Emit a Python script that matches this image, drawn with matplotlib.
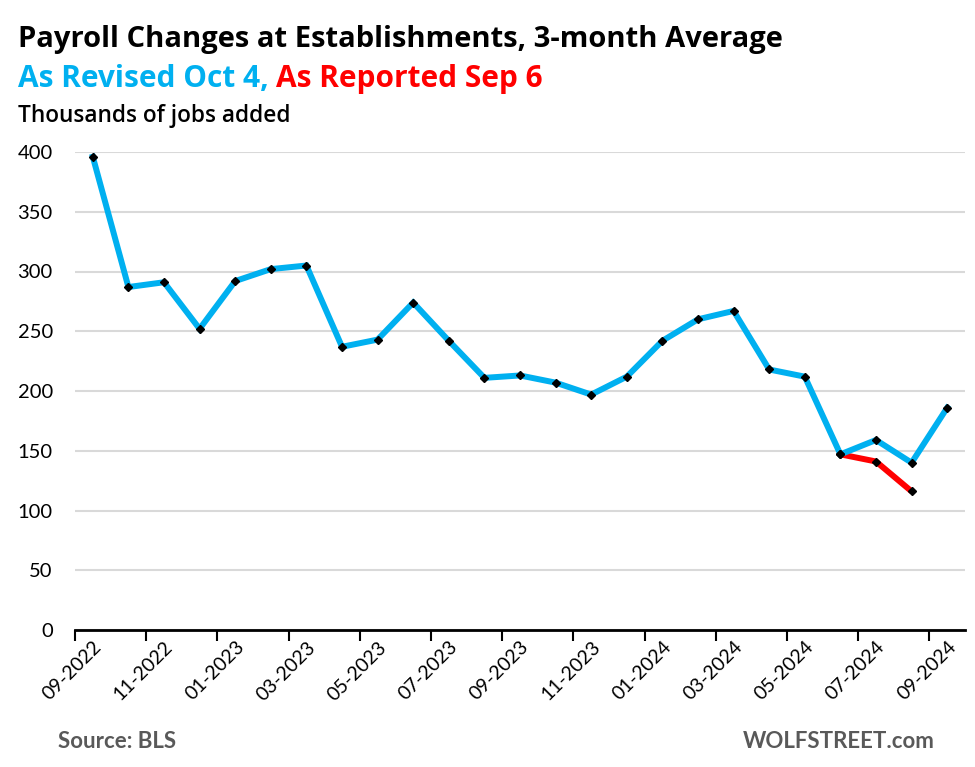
import matplotlib
matplotlib.use("Agg")
import matplotlib.pyplot as plt
from matplotlib.ticker import FixedLocator, NullFormatter, FixedFormatter

months = ["09-2022", "10-2022", "11-2022", "12-2022", "01-2023", "02-2023", "03-2023",
          "04-2023", "05-2023", "06-2023", "07-2023", "08-2023", "09-2023", "10-2023",
          "11-2023", "12-2023", "01-2024", "02-2024", "03-2024", "04-2024", "05-2024",
          "06-2024", "07-2024", "08-2024", "09-2024"]
revised = [396, 287, 291, 252, 292, 302, 305, 237, 243, 274, 242, 211, 213, 207,
           197, 212, 242, 260, 267, 218, 212, 147, 159, 140, 186]
reported_months = ["06-2024", "07-2024", "08-2024"]
reported = [147, 141, 116]

FONT = ["Lato", "DejaVu Sans"]
TFONT = ["Open Sans", "DejaVu Sans"]
plt.rcParams['font.family'] = FONT

fig = plt.figure(figsize=(9.75, 7.67), dpi=100)
ax = fig.add_axes([75/975, 1-630/767, 890/975, (630-152)/767])

x = list(range(len(months)))
xr = [months.index(m) for m in reported_months]

ax.plot(xr, reported, color="#FF0000", lw=4.3, solid_capstyle="butt", zorder=3)
ax.plot(xr, reported, ls="none", marker="D", ms=4.5, color="black", zorder=5)
ax.plot(x, revised, color="#00B0F0", lw=4.3, solid_joinstyle="miter", zorder=4)
ax.plot(x, revised, ls="none", marker="D", ms=4.5, color="black", zorder=5)

ax.set_xlim(-0.5, len(months) - 0.5)
ax.set_ylim(0, 400)
ax.set_yticks(range(0, 401, 50))
ax.yaxis.grid(True, color="#D9D9D9", lw=1.5)
ax.set_axisbelow(True)
ax.tick_params(axis="y", length=0, labelsize=14.5, pad=16, colors="black")

# major ticks at category boundaries, labels at category centres
ax.xaxis.set_major_locator(FixedLocator([i - 0.5 for i in range(0, len(months), 2)]))
ax.xaxis.set_major_formatter(NullFormatter())
ax.xaxis.set_minor_locator(FixedLocator(list(range(0, len(months), 2))))
ax.xaxis.set_minor_formatter(FixedFormatter(months[::2]))
ax.tick_params(axis="x", which="major", length=8, width=1.5, color="black", direction="out")
ax.tick_params(axis="x", which="minor", length=0, labelsize=14, pad=6)
for lab in ax.get_xticklabels(minor=True):
    lab.set_rotation(45)
    lab.set_ha("right")
    lab.set_va("top")
    lab.set_rotation_mode("anchor")

for s in ["top", "right", "left"]:
    ax.spines[s].set_visible(False)
ax.spines["bottom"].set_color("black")
ax.spines["bottom"].set_linewidth(2)

fig.text(18/975, 1-39/767, "Payroll Changes at Establishments, 3-month Average",
         fontsize=21, fontweight="bold", va="center", ha="left", family=TFONT)
t1 = fig.text(18/975, 1-79/767, "As Revised Oct 4, ", fontsize=21.5, fontweight="bold",
              color="#00B0F0", va="center", ha="left", family=TFONT)
fig.canvas.draw()
bb = t1.get_window_extent()
fig.text(bb.x1/975, 1-79/767, "As Reported Sep 6", fontsize=21.5, fontweight="bold",
         color="#FF0000", va="center", ha="left", family=TFONT)
fig.text(18/975, 1-116/767, "Thousands of jobs added", fontsize=16.3, fontweight="semibold",
         va="center", ha="left", family=TFONT)
fig.text(58/975, 1-742/767, "Source: BLS", fontsize=16, fontweight="bold", color="#595959",
         va="center", ha="left")
fig.text(935/975, 1-742/767, "WOLFSTREET.com", fontsize=16, fontweight="bold", color="#595959",
         va="center", ha="right")

fig.savefig("out.png", dpi=100)
